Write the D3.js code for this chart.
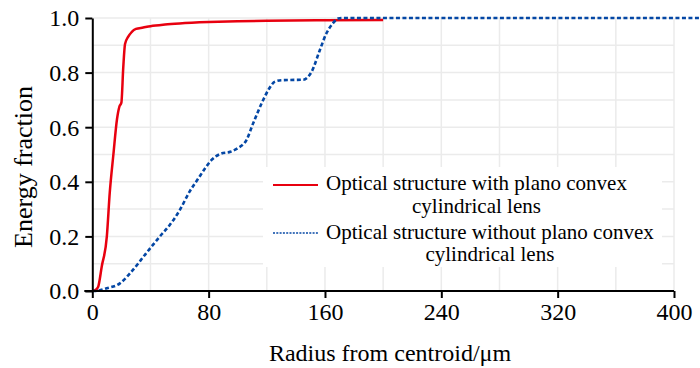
<!DOCTYPE html>
<html><head><meta charset="utf-8">
<script src="https://cdn.jsdelivr.net/npm/d3@7/dist/d3.min.js"></script>
<style>body{margin:0;background:#fff}svg{display:block}</style>
</head><body><svg id="c" width="700" height="368"></svg>
<script>
const xTicks = [0, 80, 160, 240, 320, 400];
const yTicks = [0.0, 0.2, 0.4, 0.6, 0.8, 1.0];
const xLabel = "Radius from centroid/\u03bcm";
const yLabel = "Energy fraction";
const seriesNames = [["Optical structure with plano convex", "cylindrical lens"],
                     ["Optical structure without plano convex", "cylindrical lens"]];
const withLens = [[0,0],[2,0.003],[4,0.015],[6.5,0.09],[10,0.2],[12,0.36],[14.5,0.5],[17,0.63],[18.6,0.675],[20,0.69],[21.3,0.82],[22.5,0.905],[24.5,0.93],[27,0.948],[30,0.96],[35,0.965],[40,0.97],[50,0.976],[60,0.98],[80,0.985],[100,0.988],[120,0.99],[160,0.992],[200,0.993]];
const withoutLens = [[0,0],[2,0],[10,0.01],[19,0.028],[26,0.065],[37,0.138],[46.5,0.2],[53,0.24],[60,0.295],[67,0.365],[73,0.413],[77.5,0.449],[82,0.48],[88,0.502],[95,0.51],[100,0.523],[106,0.553],[110.6,0.614],[116.4,0.687],[121,0.736],[125.6,0.767],[130,0.772],[136,0.773],[145,0.774],[150.8,0.803],[156.5,0.883],[161,0.944],[165.5,0.981],[169,0.998],[172,1.0],[420,1.0]];

const FONT = "Liberation Serif";
const svg = d3.select("#c").style("font-family", FONT);
const x = d3.scaleLinear().domain([0,400]).range([92.3,674]);
const y = d3.scaleLinear().domain([0,1]).range([291,18]);

// grid
const g = svg.append("g");
g.selectAll(".vg").data(d3.range(40,401,40)).join("line")
  .attr("x1",d=>x(d)).attr("x2",d=>x(d)).attr("y1",y(0)).attr("y2",y(1))
  .attr("stroke","#ebebeb").attr("stroke-width",1.5);
g.selectAll(".hg").data(d3.range(1,11).map(d=>d/10)).join("line")
  .attr("x1",x(0)).attr("x2",x(400)).attr("y1",d=>y(d)).attr("y2",d=>y(d))
  .attr("stroke","#ebebeb").attr("stroke-width",1.5);

// legend background
svg.append("rect").attr("x",263).attr("y",167).attr("width",399).attr("height",100).attr("fill","#fff");

// curves
const line = d3.line().x(d=>x(d[0])).y(d=>y(d[1])).curve(d3.curveMonotoneX);
svg.append("path").datum(withLens).attr("d",line).attr("fill","none")
  .attr("stroke","#e8000f").attr("stroke-width",2.5).attr("stroke-linejoin","round");
svg.append("path").datum(withoutLens).attr("d",line).attr("fill","none")
  .attr("stroke","#0447a5").attr("stroke-width",2.6).attr("stroke-dasharray","4,2.5");

// axes
const xa = svg.append("g").attr("transform",`translate(0,${y(0)})`)
  .call(d3.axisBottom(x).tickValues(xTicks).tickSize(7).tickSizeOuter(0).tickFormat(d3.format("d")));
const ya = svg.append("g").attr("transform",`translate(${x(0)},0)`)
  .call(d3.axisLeft(y).tickValues(yTicks).tickSize(7).tickSizeOuter(0).tickFormat(d3.format(".1f")));
[xa,ya].forEach(a=>{
  a.attr("font-family",null).style("font-family",FONT);
  a.select(".domain").attr("stroke","#000").attr("stroke-width",2);
  a.selectAll(".tick line").attr("stroke","#000").attr("stroke-width",2);
  a.selectAll("text").attr("font-size",24).attr("fill","#000").style("font-family",FONT);
});
xa.select(".domain").attr("d",`M${x(0)-8},0H${x(400)}`);
xa.selectAll(".tick text").attr("y",12).attr("dy","0.71em");
ya.selectAll(".tick text").attr("x",-13).attr("dy","0.33em");

svg.append("text").attr("x",390).attr("y",361).attr("text-anchor","middle")
  .attr("font-size",24).style("font-family",FONT).text(xLabel);
svg.append("text").attr("transform","translate(32,167) rotate(-90)").attr("text-anchor","middle")
  .attr("font-size",26).style("font-family",FONT).text(yLabel);

// legend
const leg = [{c:"#e8000f",dash:null,w:2,ly:185,b:[190,213]},{c:"#0447a5",dash:"2,1.3",w:1.6,ly:233,b:[239,261]}];
leg.forEach((l,i)=>{
  svg.append("line").attr("x1",273).attr("x2",318).attr("y1",l.ly).attr("y2",l.ly)
    .attr("stroke",l.c).attr("stroke-width",l.w).attr("stroke-dasharray",l.dash);
  const t0 = svg.append("text").attr("font-size",21).style("font-family",FONT).attr("x",326).attr("y",l.b[0]).text(seriesNames[i][0]);
  const w = t0.node().getComputedTextLength();
  t0.attr("x",326+w/2).attr("text-anchor","middle");
  svg.append("text").attr("font-size",21).style("font-family",FONT).attr("x",326+w/2).attr("y",l.b[1]).attr("text-anchor","middle").text(seriesNames[i][1]);
});
</script></body></html>
